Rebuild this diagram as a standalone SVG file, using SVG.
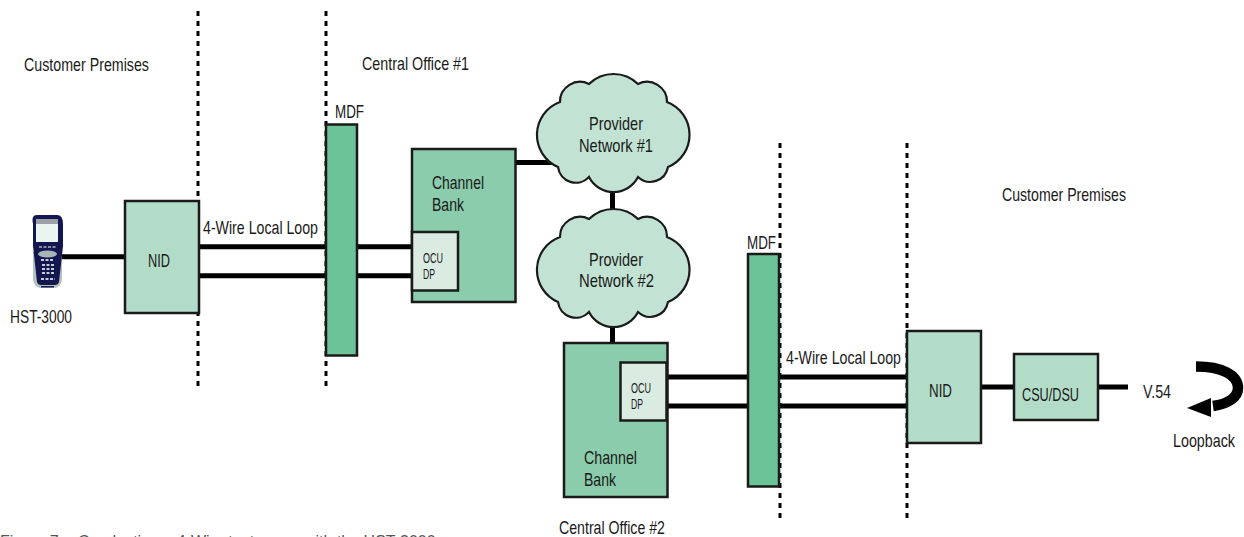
<svg xmlns="http://www.w3.org/2000/svg" width="1244" height="537" viewBox="0 0 1244 537">
<style>
text{font-family:"Liberation Sans",Arial,sans-serif;font-size:19px;fill:#1a1a1a}
text.small{font-size:14px}
text.cap{fill:#555;font-size:16px}
.box{stroke:#1a1a1a;stroke-width:2.500}
.wire{stroke:#000;stroke-width:5;fill:none}
.div{stroke:#000;stroke-width:3;stroke-dasharray:5 5;fill:none}
.nid{fill:#b3dcc8}.bank{fill:#8accab}.mdf{fill:#6cc397}.ocu{fill:#daece2}.cloud{fill:#c2e3d3;stroke:#1a1a1a;stroke-width:2.200}
</style>
<defs>
<path id="cloudshape" d="M-24,-49A35,35 0 0 1 25,-49A20,20 0 0 1 54,-31A35,35 0 0 1 55,34A18,18 0 0 1 25,44A27.500,27.500 0 0 1 -24,44A18,18 0 0 1 -55,34A35,35 0 0 1 -53,-31A20,20 0 0 1 -24,-49Z"/>
</defs>
<g id="connectors">
<path class="div" d="M198 11V388M326 11V388M780 143V519M907 143V519"/>
<path class="wire" d="M60 256.700H125M199 246.700H413M199 275.700H413M516 162.500H558M612.500 190V212M612.500 325V343M666 377H907M666 406H907M981 387H1014M1098 387H1128"/>
</g>
<g id="hst3000">
<path d="M33 252H62L62 280Q60 288 54 288H41Q35 288 33 280Z" fill="#b4c2bf"/>
<path d="M37 215H57Q63 215 63 224V246L59 282Q58 285 55 285H41Q38 285 37 282L33 246V224Q31 215 37 215Z" fill="#14174f"/>
<rect x="36" y="219" width="22" height="5" fill="#9aa0a8"/>
<rect x="36" y="224" width="22" height="18" fill="#eaf5f2"/>
<path d="M39 247h17" stroke="#aab2c0" stroke-width="1.500" stroke-dasharray="3 1.500"/>
<ellipse cx="47.500" cy="254" rx="9.500" ry="3.500" fill="#a6b5b8"/>
<path d="M41 260h13M42 265h12M42 269h12M42 273h12M41 279h14" stroke="#c5ccd6" stroke-width="2" stroke-dasharray="3 1.500"/>
<rect x="41" y="286" width="13" height="1.500" fill="#14174f"/>
</g>
<g id="nid1"><rect class="box nid" x="125" y="201" width="74" height="112"/><text x="148" y="267" textLength="22" lengthAdjust="spacingAndGlyphs">NID</text></g>
<g id="mdf1"><rect class="box mdf" x="326" y="124.500" width="31" height="231"/><text x="335" y="118" textLength="29" lengthAdjust="spacingAndGlyphs">MDF</text></g>
<g id="bank1"><rect class="box bank" x="412" y="149" width="103.500" height="153"/><text x="432" y="189" textLength="52" lengthAdjust="spacingAndGlyphs">Channel</text><text x="432" y="211" textLength="32" lengthAdjust="spacingAndGlyphs">Bank</text></g>
<g id="ocu1"><rect class="box ocu" x="412" y="232" width="46" height="58.500"/><text class="small" x="423" y="263" textLength="20" lengthAdjust="spacingAndGlyphs">OCU</text><text class="small" x="423" y="279" textLength="12" lengthAdjust="spacingAndGlyphs">DP</text></g>
<g id="cloud1"><use href="#cloudshape" x="613" y="133" class="cloud"/><text x="589" y="130" textLength="54" lengthAdjust="spacingAndGlyphs">Provider</text><text x="579" y="152" textLength="74" lengthAdjust="spacingAndGlyphs">Network #1</text></g>
<g id="cloud2"><use href="#cloudshape" x="613" y="268" class="cloud"/><text x="589" y="266" textLength="54" lengthAdjust="spacingAndGlyphs">Provider</text><text x="579" y="287" textLength="75" lengthAdjust="spacingAndGlyphs">Network #2</text></g>
<g id="bank2"><rect class="box bank" x="564" y="343" width="103.500" height="154"/><text x="584" y="464" textLength="53" lengthAdjust="spacingAndGlyphs">Channel</text><text x="584" y="486" textLength="32" lengthAdjust="spacingAndGlyphs">Bank</text></g>
<g id="ocu2"><rect class="box ocu" x="620.500" y="362.500" width="46" height="58"/><text class="small" x="631" y="393" textLength="20" lengthAdjust="spacingAndGlyphs">OCU</text><text class="small" x="631" y="409" textLength="12" lengthAdjust="spacingAndGlyphs">DP</text></g>
<g id="mdf2"><rect class="box mdf" x="748" y="254" width="31" height="232.500"/><text x="747" y="249" textLength="29" lengthAdjust="spacingAndGlyphs">MDF</text></g>
<g id="nid2"><rect class="box nid" x="907" y="331" width="74" height="112"/><text x="929" y="397" textLength="23" lengthAdjust="spacingAndGlyphs">NID</text></g>
<g id="csu"><rect class="box nid" x="1014" y="354" width="84" height="66"/><text x="1022" y="401" textLength="57" lengthAdjust="spacingAndGlyphs">CSU/DSU</text></g>
<g id="loopback">
<path d="M1196 366.500C1222 366.500 1238 375 1238 388C1238 398 1227 404 1213 406" fill="none" stroke="#000" stroke-width="10.500"/>
<path d="M1187 408L1211 398V417Z" fill="#000"/>
</g>
<g id="labels">
<text x="24" y="71" textLength="125" lengthAdjust="spacingAndGlyphs">Customer Premises</text>
<text x="362" y="70" textLength="107" lengthAdjust="spacingAndGlyphs">Central Office #1</text>
<text x="1002" y="201" textLength="124" lengthAdjust="spacingAndGlyphs">Customer Premises</text>
<text x="203" y="234" textLength="115" lengthAdjust="spacingAndGlyphs">4-Wire Local Loop</text>
<text x="786" y="364" textLength="115" lengthAdjust="spacingAndGlyphs">4-Wire Local Loop</text>
<text x="10" y="323" textLength="62" lengthAdjust="spacingAndGlyphs">HST-3000</text>
<text x="1143" y="398" textLength="28" lengthAdjust="spacingAndGlyphs">V.54</text>
<text x="1173" y="447" textLength="62" lengthAdjust="spacingAndGlyphs">Loopback</text>
<text x="559" y="534" textLength="106" lengthAdjust="spacingAndGlyphs">Central Office #2</text>
<text class="cap" y="547"><tspan x="0">Figure 7</tspan><tspan x="78">Conducting a 4-Wire test</tspan><tspan x="304">with the HST-3000</tspan></text>
</g>
</svg>
